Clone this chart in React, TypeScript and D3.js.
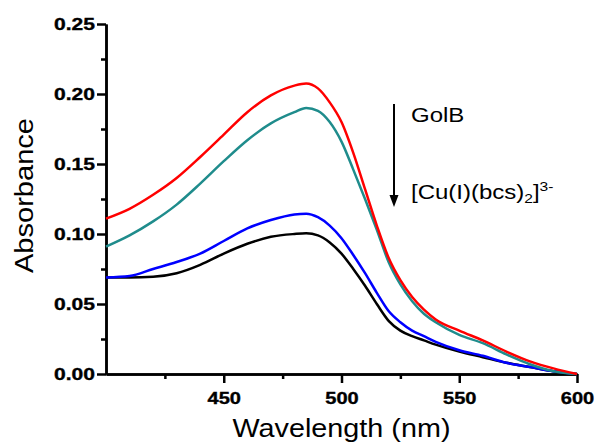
import React, { useEffect, useRef } from 'react'
import * as d3 from 'd3'

const W = 599, H = 445
const margin = { top: 24, right: 22, bottom: 71, left: 106 }
const width = W - margin.left - margin.right
const height = H - margin.top - margin.bottom

// wavelength grid (nm)
const wavelengths = [400, 410, 420, 430, 440, 450, 460, 470, 480, 485, 490, 495, 500, 505, 510, 515, 520, 525, 530, 535, 540, 550, 560, 570, 580, 590, 600]

// absorbance
const redSeries = [0.111, 0.118, 0.128, 0.140, 0.155, 0.171, 0.187, 0.199, 0.206, 0.2075, 0.204, 0.194, 0.180, 0.158, 0.132, 0.106, 0.083, 0.067, 0.055, 0.046, 0.039, 0.031, 0.024, 0.016, 0.009, 0.004, 0.000]
const tealSeries = [0.091, 0.099, 0.109, 0.121, 0.136, 0.152, 0.167, 0.179, 0.187, 0.190, 0.188, 0.180, 0.166, 0.146, 0.125, 0.103, 0.080, 0.064, 0.052, 0.043, 0.037, 0.028, 0.022, 0.014, 0.007, 0.002, 0.000]
const blueSeries = [0.069, 0.070, 0.075, 0.080, 0.086, 0.095, 0.104, 0.110, 0.114, 0.1145, 0.112, 0.106, 0.097, 0.085, 0.072, 0.058, 0.045, 0.037, 0.031, 0.027, 0.023, 0.017, 0.013, 0.008, 0.005, 0.002, 0.000]
const blackSeries = [0.069, 0.069, 0.0695, 0.072, 0.078, 0.086, 0.093, 0.098, 0.100, 0.1005, 0.099, 0.094, 0.086, 0.075, 0.063, 0.050, 0.038, 0.031, 0.027, 0.024, 0.021, 0.016, 0.012, 0.008, 0.005, 0.002, 0.000]

const seriesColors = ["#ff0000", "#1f8c8c", "#0000ff", "#000000"]

const xMajor = [450, 500, 550, 600]
const xMinor = [425, 475, 525, 575]
const yMajor = [0, 0.05, 0.10, 0.15, 0.20, 0.25]
const yMinor = [0.025, 0.075, 0.125, 0.175, 0.225]

const font = "'Liberation Sans', Arial, sans-serif"

export default function App() {
    const ref = useRef<SVGSVGElement>(null)

    useEffect(() => {
        const root = d3.select(ref.current)
        root.selectAll("*").remove()

        const svg = root.append("g")
            .attr("transform", `translate(${margin.left},${margin.top})`)

        const x = d3.scaleLinear().domain([400, 600]).range([0, width])
        const y = d3.scaleLinear().domain([0, 0.25]).range([height, 0])

        const styleAxis = (g: any) => {
            g.selectAll(".domain").attr("stroke-width", 2.5).attr("stroke", "#000")
            g.selectAll(".tick line").attr("stroke-width", 2.5).attr("stroke", "#000")
        }

        // minor ticks
        svg.append("g")
            .attr("transform", `translate(0,${height})`)
            .call(d3.axisBottom(x).tickValues(xMinor).tickSize(5).tickSizeOuter(0).tickFormat(() => ""))
            .call(styleAxis)
        svg.append("g")
            .call(d3.axisLeft(y).tickValues(yMinor).tickSize(5).tickSizeOuter(0).tickFormat(() => ""))
            .call(styleAxis)

        // major ticks
        const xAx = svg.append("g")
            .attr("transform", `translate(0,${height})`)
            .call(d3.axisBottom(x).tickValues(xMajor).tickSize(9).tickPadding(9).tickSizeOuter(0))
            .call(styleAxis)
        xAx.selectAll("text")
            .attr("font-family", font)
            .attr("font-weight", "bold")
            .attr("font-size", 17)
            .attr("fill", "#000")
            .attr("stroke", "#000")
            .attr("stroke-width", 0.35)
            .attr("transform", "scale(1.18,1)")

        const yAx = svg.append("g")
            .call(d3.axisLeft(y).tickValues(yMajor).tickSize(9).tickPadding(0).tickSizeOuter(0).tickFormat(d3.format(".2f")))
            .call(styleAxis)
        yAx.selectAll("text")
            .attr("x", -11 / 1.24)
            .attr("font-family", font)
            .attr("font-weight", "bold")
            .attr("font-size", 17)
            .attr("fill", "#000")
            .attr("stroke", "#000")
            .attr("stroke-width", 0.35)
            .attr("transform", "scale(1.24,1)")

        // spectra
        const allSeries = [blackSeries, blueSeries, tealSeries, redSeries]
        const colors = [seriesColors[3], seriesColors[2], seriesColors[1], seriesColors[0]]
        const line = d3.line<number>()
            .x((_, i) => x(wavelengths[i]))
            .y(d => y(d))
            .curve(d3.curveMonotoneX)

        allSeries.forEach((s, i) => {
            svg.append("path")
                .datum(s)
                .attr("fill", "none")
                .attr("stroke", colors[i])
                .attr("stroke-width", 2.5)
                .attr("d", line)
        })

        // axis titles
        svg.append("text")
            .attr("x", width / 2)
            .attr("y", height + 62.5)
            .attr("text-anchor", "middle")
            .attr("font-family", font)
            .attr("font-size", 25)
            .attr("textLength", 218)
            .attr("lengthAdjust", "spacingAndGlyphs")
            .text("Wavelength (nm)")

        svg.append("text")
            .attr("transform", `translate(${33 - margin.left},${195.5 - margin.top}) rotate(-90)`)
            .attr("text-anchor", "middle")
            .attr("font-family", font)
            .attr("font-size", 25)
            .attr("textLength", 155)
            .attr("lengthAdjust", "spacingAndGlyphs")
            .text("Absorbance")

        // annotation arrow
        const ann = root.append("g")
        ann.append("line")
            .attr("x1", 394).attr("x2", 394)
            .attr("y1", 104).attr("y2", 197)
            .attr("stroke", "#000").attr("stroke-width", 2)
        ann.append("path")
            .attr("d", "M389.5,195 L398.5,195 L394,207 Z")
            .attr("fill", "#000")

        const label = ann.append("g").attr("transform", "translate(411,0) scale(1.2,1)")
        label.append("text")
            .attr("x", 0).attr("y", 122.5)
            .attr("font-family", font)
            .attr("font-size", 20)
            .text("GolB")

        const cu = label.append("text")
            .attr("x", 0).attr("y", 199)
            .attr("font-family", font)
            .attr("font-size", 20)
        cu.append("tspan").text("[Cu(I)(bcs)")
        cu.append("tspan").attr("font-size", 13).attr("dy", 4).text("2")
        cu.append("tspan").attr("dy", -4).text("]")
        cu.append("tspan").attr("font-size", 13).attr("dy", -8).text("3-")
    }, [])

    return (
        <svg ref={ref} width={W} height={H}
            style={{ position: 'absolute', left: 0, top: 0, background: '#fff' }} />
    )
}
